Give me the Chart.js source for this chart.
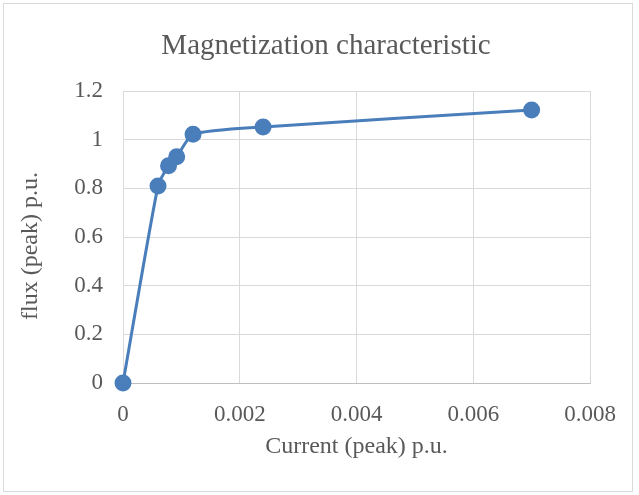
<!DOCTYPE html>
<html>
<head>
<meta charset="utf-8">
<script src="https://cdn.jsdelivr.net/npm/chart.js@4"></script>
<style>
  html, body { margin: 0; padding: 0; background: #fff; }
  #wrap { position: relative; width: 639px; height: 495px; }
</style>
</head>
<body>
<div id="wrap"><canvas id="magChart" width="639" height="495"></canvas></div>
<script>
// Magnetization curve: peak current vs peak flux (per unit)
const currentPeak = [0, 0.0006, 0.00078, 0.00092, 0.0012, 0.0024, 0.0070];
const fluxPeak = [0, 0.81, 0.893, 0.93, 1.022, 1.052, 1.122];
const xTicks = [0, 0.002, 0.004, 0.006, 0.008];
const yTicks = [0, 0.2, 0.4, 0.6, 0.8, 1, 1.2];
const chartTitle = 'Magnetization characteristic';
const yTitle = 'flux (peak) p.u.';

const serif = "'Liberation Serif', 'Times New Roman', serif";
const textGray = '#595959';
const gridGray = '#d9d9d9';

// light frame round the whole chart, the centred title and the y axis caption
const frame = {
    id: 'frame',
    beforeDraw(chart) {
        const ctx = chart.ctx;
        ctx.save();
        ctx.strokeStyle = '#d9d9d9';
        ctx.lineWidth = 1;
        ctx.strokeRect(3.5, 3.5, 629, 488);
        ctx.fillStyle = textGray;
        ctx.textAlign = 'center';
        ctx.textBaseline = 'alphabetic';
        ctx.font = '29px ' + serif;
        ctx.fillText(chartTitle, 326, 54);
        ctx.textBaseline = 'middle';
        ctx.translate(31, 246);
        ctx.rotate(-Math.PI / 2);
        ctx.font = '24px ' + serif;
        ctx.fillText(yTitle, 0, 0);
        ctx.restore();
    }
};

document.addEventListener("DOMContentLoaded", function() {
    const ctx = document.getElementById('magChart').getContext('2d');
    new Chart(ctx, {
        type: 'scatter',
        data: {
            datasets: [{
                data: currentPeak.map((x, i) => ({ x: x, y: fluxPeak[i] })),
                showLine: true,
                tension: 0.2,
                clip: false,
                borderColor: '#4a7ebb',
                backgroundColor: '#4a7ebb',
                borderWidth: 3,
                pointRadius: 7,
                pointHoverRadius: 7
            }]
        },
        options: {
            responsive: false,
            animation: false,
            layout: { padding: { left: 0, right: 49, top: 91, bottom: 0 } },
            plugins: {
                legend: { display: false },
                tooltip: { enabled: false },
                title: { display: false }
            },
            scales: {
                x: {
                    type: 'linear',
                    min: 0,
                    max: 0.008,
                    afterBuildTicks: axis => { axis.ticks = xTicks.map(v => ({ value: v })); },
                    afterFit: axis => { axis.height = 112; },
                    ticks: {
                        color: textGray,
                        font: { family: serif, size: 23 },
                        padding: 18,
                        maxRotation: 0,
                        callback: v => String(v)
                    },
                    grid: { color: gridGray, drawTicks: false },
                    border: { color: '#bfbfbf' },
                    title: {
                        display: true,
                        text: 'Current (peak) p.u.',
                        color: textGray,
                        font: { family: serif, size: 24 },
                        padding: { top: 0, bottom: 34 }
                    }
                },
                y: {
                    type: 'linear',
                    min: 0,
                    max: 1.2,
                    afterBuildTicks: axis => { axis.ticks = yTicks.map(v => ({ value: v })); },
                    afterFit: axis => { axis.width = 123; },
                    ticks: {
                        color: textGray,
                        font: { family: serif, size: 23 },
                        padding: 20,
                        callback: v => String(Math.round(v * 10) / 10)
                    },
                    grid: { color: gridGray, drawTicks: false },
                    border: { color: gridGray }
                }
            }
        },
        plugins: [frame]
    });
});
</script>
</body>
</html>
